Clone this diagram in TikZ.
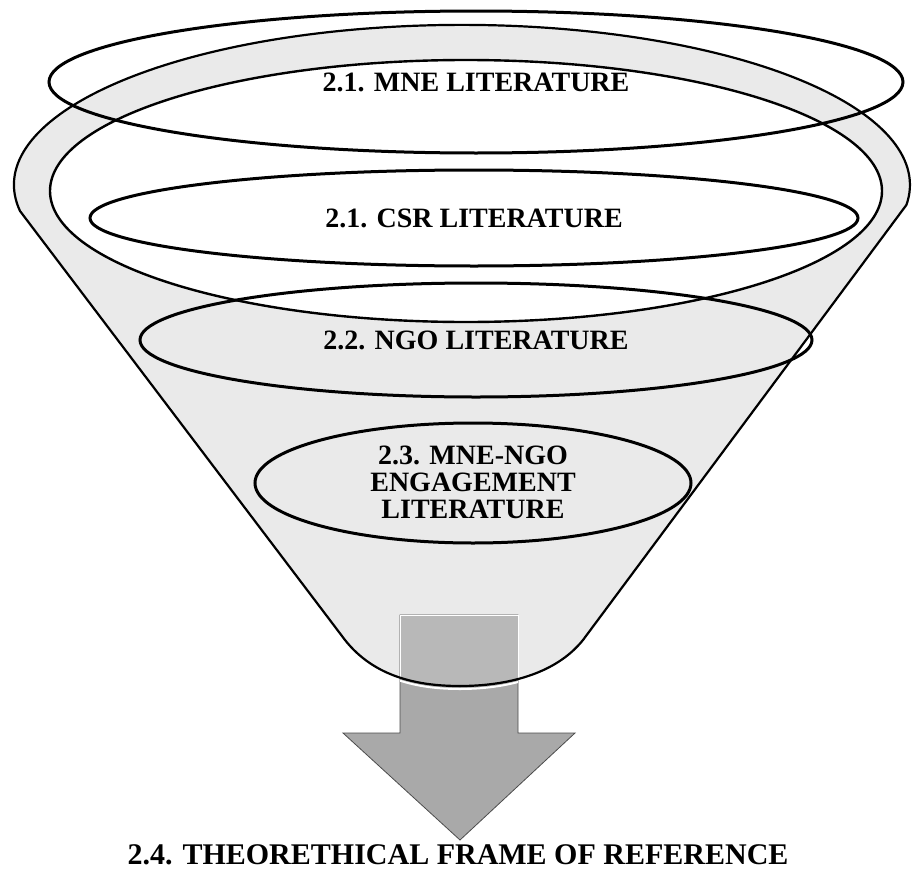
\documentclass[tikz,border=0pt]{standalone}
\usepackage{fontspec}
\setmainfont{Liberation Serif}
\usetikzlibrary{shapes.geometric, positioning}

\definecolor{funnelgrey}{HTML}{EAEAEA}
\definecolor{arrowgrey}{HTML}{A9A9A9}
\definecolor{arrowlight}{HTML}{B8B8B8}

\tikzset{
  lit/.style={ellipse, draw=black, line width=3pt, inner sep=0pt, align=center,
    font=\bfseries\fontsize{28}{27}\selectfont},
  littext/.style={align=center, font=\bfseries\fontsize{28}{27}\selectfont},
}

\begin{document}
\begin{tikzpicture}[x=1pt, y=-1pt]
    \useasboundingbox (0,0) rectangle (913,870);
    % funnel body and rim
    \fill[funnelgrey] (20,211) arc[start angle=170.6, end angle=367.2, x radius=448, y radius=160]
      -- (583,640) .. controls (555,675) and (505,686) .. (460,686)
      .. controls (420,686) and (375,678) .. (345,640) -- cycle;
    \draw[line width=2.4pt, fill=white] (466,191) ellipse [x radius=416, y radius=131];
    % arrow
    \draw[fill=arrowgrey, draw=gray!60!black, line width=0.8pt]
      (400,615) -- (518,615) -- (518,733) -- (575,733) -- (460,840) -- (343,733) -- (400,733) -- cycle;
    \begin{scope}
      \clip (345,640) -- (20,211) -- (906,205) -- (583,640) .. controls (555,675) and (505,686) .. (460,686)
        .. controls (420,686) and (375,678) .. (345,640);
      \draw[fill=arrowlight, draw=white, line width=1pt] (400,615) rectangle (518,700);
    \end{scope}
    \draw[line width=2.2pt] (20,211) arc[start angle=170.6, end angle=367.2, x radius=448, y radius=160]
      -- (583,640) .. controls (555,675) and (505,686) .. (460,686)
      .. controls (420,686) and (375,678) .. (345,640) -- cycle;
    \begin{scope}
      \clip (400,640) rectangle (518,700);
      \draw[white, line width=2pt, yshift=-3pt] (583,640) .. controls (555,675) and (505,686) .. (460,686)
        .. controls (420,686) and (375,678) .. (345,640);
    \end{scope}
    % literature ellipses
    \node[lit, minimum width=854pt, minimum height=142pt] (mne) at (476,82) {2.1. MNE LITERATURE};
    \node[lit, minimum width=768pt, minimum height=96pt] (csr) at (474,218) {2.1. CSR LITERATURE};
    \node[lit, minimum width=672pt, minimum height=114pt] (ngo) at (476,340) {2.2. NGO LITERATURE};
    \node[lit, minimum width=436pt, minimum height=120pt,
      label={[littext, yshift=1pt]center:2.3. MNE-NGO\\ENGAGEMENT\\LITERATURE}] (eng) at (473,483) {};
    \node[font=\bfseries\fontsize{30}{30}\selectfont] (frame) at (458,855) {2.4. THEORETHICAL FRAME OF REFERENCE};
  \end{tikzpicture}
\end{document}
